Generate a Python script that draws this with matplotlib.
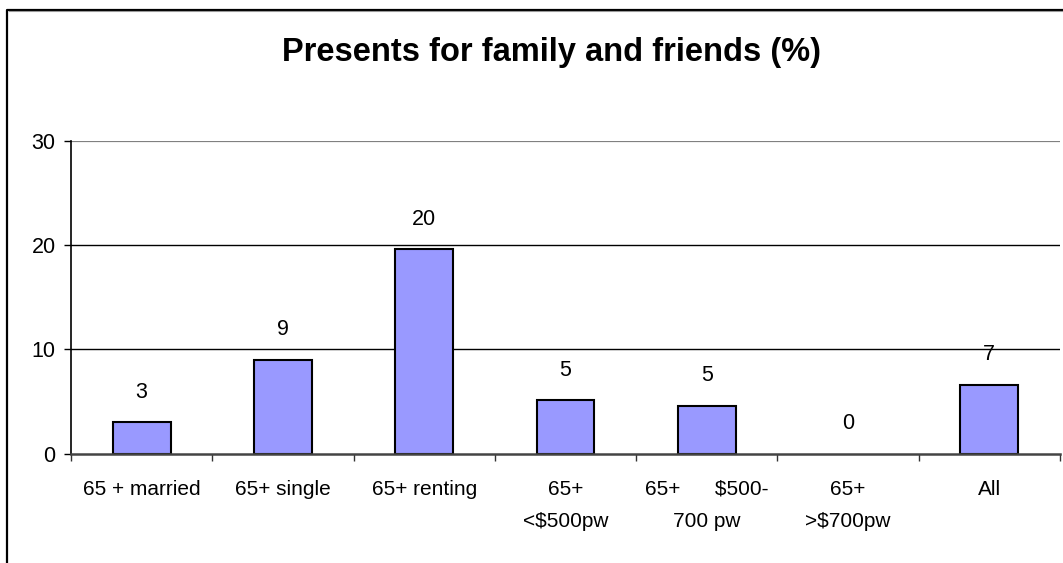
import matplotlib
matplotlib.use("Agg")
import matplotlib.pyplot as plt
from matplotlib.lines import Line2D
import numpy as np

plt.rcParams['font.family'] = ['Liberation Sans', 'DejaVu Sans']

# survey values (%)
categories = ["65 + married", "65+ single", "65+ renting", "65+\n<$500pw",
              "65+      $500-\n700 pw", "65+\n>$700pw", "All"]
values = [3.0, 9.0, 19.6, 5.1, 4.6, 0.0, 6.6]
y_ticks = [0, 10, 20, 30]

W, H = 1063, 563
fig = plt.figure(figsize=(W / 100, H / 100), dpi=100)
ax = fig.add_axes([71 / W, 1 - 453.5 / H, 989 / W, 312.5 / H])

x = np.arange(len(categories))
edges = ["black" if v > 0 else "none" for v in values]
ax.bar(x, values, width=0.41, color="#9999FF", edgecolor=edges, linewidth=1.5, zorder=3)

for xi, v in zip(x, values):
    ax.annotate(f"{v:.0f}", (xi, v), xytext=(0, 21.5), textcoords="offset points",
                ha="center", va="center", fontsize=15.5)

ax.set_xlim(-0.5, len(categories) - 0.5)
ax.set_ylim(0, 30)
ax.set_yticks(y_ticks)
ax.tick_params(axis="y", length=5, width=1, pad=6, labelsize=15.5, direction="out")

# category labels sit between boundary ticks
ax.set_xticks(np.arange(-0.5, len(categories), 1.0))
ax.set_xticklabels([])
ax.set_xticks(x, minor=True)
ax.set_xticklabels(categories, minor=True, fontsize=15, linespacing=1.9, va="top")
ax.tick_params(axis="x", which="major", length=5, width=1, color="#333333")
ax.tick_params(axis="x", which="minor", length=0, pad=19)

for yv in [10, 20]:
    ax.axhline(yv, color="black", lw=1, zorder=1)
ax.axhline(30, color="#808080", lw=1.6, zorder=1)

for s in ["top", "right"]:
    ax.spines[s].set_visible(False)
ax.spines["left"].set_color("black")
ax.spines["left"].set_linewidth(1.2)
ax.spines["bottom"].set_color("#444444")
ax.spines["bottom"].set_linewidth(1.8)
ax.spines["bottom"].set_zorder(4)

fig.text(551 / W, 1 - 53 / H, "Presents for family and friends (%)", ha="center", va="center",
         fontsize=23.5, fontweight="bold")

# chart frame (left and top edges)
fig.add_artist(Line2D([7 / W, 7 / W, 1.0], [0, 1 - 9.5 / H, 1 - 9.5 / H], color="black", lw=1.6))
fig.add_artist(Line2D([8.5 / W, 1.0], [1 - 11 / H, 1 - 11 / H], color="#999999", lw=0.8))

fig.savefig("out.png", dpi=100, facecolor="white")
